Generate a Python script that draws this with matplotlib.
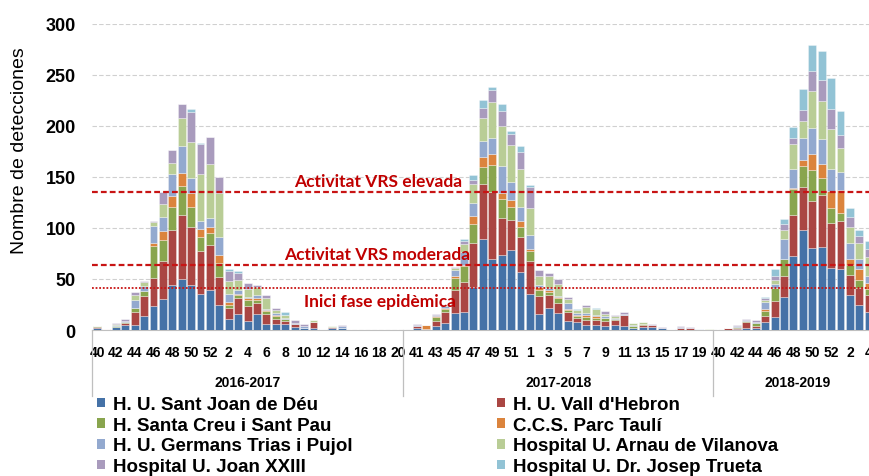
import matplotlib
matplotlib.use('Agg')
import matplotlib.pyplot as plt
from matplotlib.patches import Patch
import matplotlib.transforms as mtransforms
import numpy as np

# ---------------- data ----------------
seasons = ['2016-2017', '2017-2018', '2018-2019']
weeks_s1 = [40, 41, 42, 43, 44, 45, 46, 47, 48, 49, 50, 51, 52,
            1, 2, 3, 4, 5, 6, 7, 8, 9, 10, 11, 12, 13, 14, 15, 16, 17, 18, 19, 20]
weeks_s2 = [40, 41, 42, 43, 44, 45, 46, 47, 48, 49, 50, 51, 52,
            1, 2, 3, 4, 5, 6, 7, 8, 9, 10, 11, 12, 13, 14, 15, 16, 17, 18, 19, 20]
weeks_s3 = [40, 41, 42, 43, 44, 45, 46, 47, 48, 49, 50, 51, 52, 1, 2, 3, 4]

hospitals = ["H. U. Sant Joan de Déu", "H. U. Vall d'Hebron", "H. Santa Creu i Sant Pau",
             "C.C.S. Parc Taulí", "H. U. Germans Trias i Pujol", "Hospital U. Arnau de Vilanova",
             "Hospital U. Joan XXIII", "Hospital U. Dr. Josep Trueta"]

sant_joan_deu = ([2, 0, 3, 5, 5, 14, 24, 30, 44, 50, 44, 35, 39,
                  25, 11, 16, 9, 16, 6, 6, 6, 3, 2, 2, 1, 2, 2, 0, 0, 0, 0, 0, 0]
                 + [0, 2, 1, 4, 7, 17, 18, 42, 89, 70, 74, 78, 57,
                    35, 16, 22, 17, 9, 8, 5, 5, 4, 5, 4, 2, 3, 3, 2, 1, 0, 0, 0, 0]
                 + [0, 0, 1, 2, 2, 8, 13, 32, 73, 98, 80, 81, 61, 60, 34, 25, 18])
vall_hebron = ([1, 1, 0, 2, 13, 19, 27, 38, 54, 63, 57, 42, 44,
                27, 11, 15, 15, 10, 10, 5, 3, 3, 0, 6, 0, 1, 0, 0, 0, 0, 0, 0, 0]
               + [0, 2, 0, 5, 11, 22, 29, 43, 54, 65, 36, 30, 34,
                  33, 17, 12, 9, 9, 4, 5, 5, 5, 5, 11, 0, 2, 2, 0, 0, 2, 2, 0, 0]
               + [0, 2, 1, 6, 2, 6, 15, 21, 40, 42, 46, 51, 44, 47, 20, 16, 16])
sant_pau = ([1, 0, 1, 1, 4, 5, 31, 20, 23, 28, 20, 14, 12,
             14, 3, 3, 5, 3, 3, 3, 2, 0, 0, 0, 0, 0, 0, 0, 0, 0, 0, 0, 0]
            + [0, 0, 0, 4, 3, 12, 16, 19, 17, 27, 18, 13, 10,
               9, 6, 3, 5, 2, 2, 3, 2, 3, 1, 0, 2, 1, 0, 0, 0, 0, 0, 0, 0]
            + [0, 0, 1, 1, 3, 5, 13, 17, 25, 21, 31, 17, 15, 8, 10, 8, 6])
parc_tauli = ([0, 0, 0, 0, 0, 0, 3, 9, 10, 13, 13, 8, 6,
               8, 2, 1, 2, 2, 1, 1, 0, 0, 0, 0, 0, 0, 0, 0, 0, 0, 0, 0, 0]
              + [0, 0, 4, 1, 1, 2, 1, 8, 10, 11, 6, 6, 6,
                 2, 3, 2, 1, 1, 1, 2, 2, 0, 0, 0, 0, 0, 0, 0, 0, 0, 0, 0, 0]
              + [0, 0, 0, 0, 0, 2, 0, 0, 1, 6, 16, 14, 16, 22, 6, 11, 6])
germans_trias = ([0, 0, 1, 1, 7, 5, 17, 14, 22, 26, 15, 8, 9,
                  17, 8, 4, 1, 3, 1, 2, 1, 1, 2, 0, 0, 0, 2, 0, 0, 0, 0, 0, 0]
                 + [0, 1, 0, 1, 2, 6, 12, 13, 15, 15, 27, 18, 14,
                    14, 2, 2, 1, 5, 2, 2, 1, 2, 1, 1, 1, 0, 0, 0, 0, 1, 0, 1, 0]
                 + [0, 0, 1, 1, 1, 6, 4, 19, 19, 21, 25, 24, 22, 18, 15, 10, 7])
arnau_vilanova = ([0, 0, 1, 0, 5, 4, 4, 13, 11, 28, 35, 46, 53,
                   43, 13, 10, 8, 8, 10, 3, 3, 0, 0, 2, 0, 1, 0, 0, 0, 0, 0, 0, 0]
                  + [0, 0, 0, 0, 1, 2, 8, 18, 23, 36, 39, 36, 37,
                     27, 9, 12, 12, 4, 3, 6, 6, 2, 2, 0, 2, 2, 0, 0, 0, 0, 0, 0, 1]
                  + [0, 0, 0, 0, 0, 2, 4, 9, 24, 17, 36, 38, 39, 23, 16, 15, 19])
joan_xxiii = ([0, 0, 1, 2, 3, 1, 1, 11, 12, 14, 30, 29, 26,
               16, 10, 7, 6, 2, 3, 2, 0, 3, 2, 0, 0, 0, 1, 0, 0, 0, 0, 0, 0]
              + [0, 1, 0, 1, 0, 1, 3, 4, 10, 11, 15, 11, 17,
                 20, 6, 3, 5, 2, 0, 2, 0, 3, 1, 2, 0, 0, 1, 1, 0, 1, 1, 0, 0]
              + [0, 0, 1, 1, 2, 2, 4, 6, 6, 11, 20, 20, 20, 13, 10, 7, 7])
josep_trueta = ([0, 0, 0, 0, 0, 0, 0, 0, 0, 0, 3, 1, 0,
                 0, 2, 2, 0, 0, 0, 0, 3, 0, 0, 0, 0, 0, 0, 0, 0, 0, 0, 0, 0]
                + [0, 0, 0, 0, 0, 0, 2, 5, 7, 3, 7, 3, 5,
                   2, 0, 0, 0, 0, 1, 0, 1, 0, 0, 0, 0, 0, 0, 0, 0, 0, 0, 0, 0]
                + [0, 0, 0, 0, 0, 1, 7, 5, 11, 20, 25, 29, 30, 24, 9, 6, 8])

thresholds = [135, 64, 41]
threshold_labels = ['Activitat VRS elevada', 'Activitat VRS moderada', 'Inici fase epidèmica']

# ---------------- styling ----------------
colors = ['#4572A7', '#AA4643', '#89A54E', '#DB843D',
          '#93A9CF', '#B9CD96', '#A99BBD', '#92C3D5']
series = [sant_joan_deu, vall_hebron, sant_pau, parc_tauli,
          germans_trias, arnau_vilanova, joan_xxiii, josep_trueta]

plt.rcParams['font.family'] = ['Liberation Sans', 'DejaVu Sans']

W, H = 869, 477
fig = plt.figure(figsize=(W / 100, H / 100), dpi=100)
ax_left_px, ax_right_px = 92.3, 1024.0
ax_bottom_px, ax_top_px = 331.0, 25.0
ax = fig.add_axes([ax_left_px / W, (H - ax_bottom_px) / H,
                   (ax_right_px - ax_left_px) / W, (ax_bottom_px - ax_top_px) / H])

weeks_all = weeks_s1 + weeks_s2 + weeks_s3
n_total = len(weeks_all)
x = np.arange(n_total)
bottom = np.zeros(n_total)
for name, vals, col in zip(hospitals, series, colors):
    v = np.array(vals, dtype=float)
    ax.bar(x, v, width=0.84, bottom=bottom, color=col,
           edgecolor=(1, 1, 1, 0.45), linewidth=0.5, label=name, zorder=3)
    bottom += v

ax.set_xlim(-0.5, len(weeks_s1) + len(weeks_s2) + 32.5)
ax.set_ylim(0, 300)
ax.set_yticks(range(0, 301, 50))
ax.set_yticklabels([str(v) for v in range(0, 301, 50)], fontsize=13, fontweight='bold')
ax.set_xticks(x[::2])
ax.set_xticklabels([str(w) for w in weeks_all[::2]], fontsize=10, fontweight='bold')
ax.tick_params(axis='y', length=0, pad=12)
ax.tick_params(axis='x', length=0, pad=11)

ax.grid(axis='y', color='#D0D0D0', linewidth=0.8, linestyle=(0, (4, 2)), zorder=0)
for s in ['left', 'right', 'top']:
    ax.spines[s].set_visible(False)
ax.spines['bottom'].set_color('#BFBFBF')
ax.spines['bottom'].set_linewidth(0.8)

# threshold lines
red = '#C81414'
ax.axhline(thresholds[0], color=red, linewidth=1.6, linestyle=(0, (2.6, 1.4)), zorder=4)
ax.axhline(thresholds[1], color=red, linewidth=1.6, linestyle=(0, (2.6, 1.4)), zorder=4)
ax.axhline(thresholds[2], color=red, linewidth=1.3, linestyle=(0, (1, 1)), zorder=4)
txt_kw = dict(color='#C00000', fontsize=12.5, fontweight='bold', family=['Lato', 'DejaVu Sans'],
              ha='center', va='center', zorder=5)
ax.text(29.9, 146.5, threshold_labels[0], **txt_kw)
ax.text(29.8, 75, threshold_labels[1], **txt_kw)
ax.text(30.1, 28, threshold_labels[2], **txt_kw)

# season separators and labels
trans = mtransforms.blended_transform_factory(ax.transData, ax.transAxes)
n1, n2 = len(weeks_s1), len(weeks_s2)
for b in [-0.5, n1 - 0.5, n1 + n2 - 0.5]:
    ax.plot([b, b], [0, -0.216], transform=trans, color='#BFBFBF',
            linewidth=0.9, clip_on=False)
season_centers = [(n1 - 1) / 2, n1 + (n2 - 1) / 2, n1 + n2 + 8.4]
for c, s in zip(season_centers, seasons):
    ax.text(c, -0.170, s, transform=trans, ha='center', va='center',
            fontsize=10, fontweight='bold')

# y label
fig.text(20 / W, 1 - 151 / H, 'Nombre de detecciones', rotation=90,
         ha='center', va='center', fontsize=14)

# legend (two columns)
handles = [Patch(facecolor=c, edgecolor='none') for c in colors]
leg_kw = dict(loc='upper left', frameon=False, borderpad=0, borderaxespad=0,
              handlelength=0.4, handleheight=0.4, handletextpad=0.45,
              labelspacing=0.2, bbox_transform=fig.transFigure,
              prop={'weight': 'bold', 'size': 13.5})
fig.legend([handles[i] for i in (0, 2, 4, 6)], [hospitals[i] for i in (0, 2, 4, 6)],
           bbox_to_anchor=(97 / W, 1 - 397 / H), **leg_kw)
fig.legend([handles[i] for i in (1, 3, 5, 7)], [hospitals[i] for i in (1, 3, 5, 7)],
           bbox_to_anchor=(497 / W, 1 - 397 / H), **leg_kw)

fig.savefig('out.png', dpi=100)
